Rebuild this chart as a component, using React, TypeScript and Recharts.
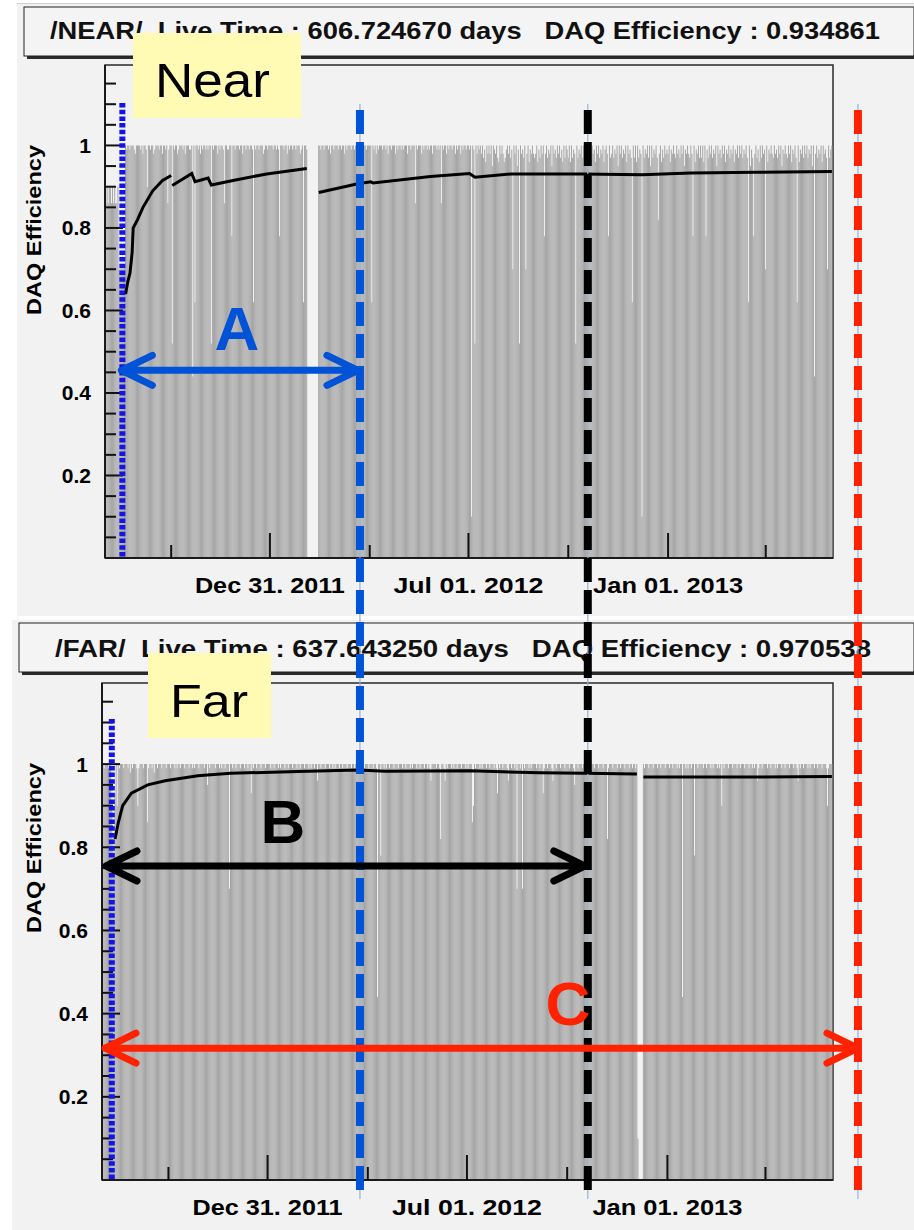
import React from "react";
import { Bar, ComposedChart, Line, ReferenceArea, XAxis, YAxis } from "recharts";

const FONT = "'Liberation Sans', Arial, Helvetica, sans-serif";

// time axis: day 0 is 2011-08-01, the frame ends on 2013-06-02
const AXIS_START = "2011-08-01";
const X_MAX = 671;
const Y_MAX = 1.195;

const dayOf = (iso: string) =>
  Math.round((Date.parse(iso) - Date.parse(AXIS_START)) / 86400000);

const X_TICK_DATES = ["2011-10-01", "2011-12-31", "2012-04-01", "2012-07-01", "2012-10-01", "2013-01-01", "2013-04-01"];
const X_TICK_LABELS = ["", "Dec 31. 2011", "", "Jul 01. 2012", "", "Jan 01. 2013", ""];
const X_TICK_DAYS = X_TICK_DATES.map(dayOf);

const Y_TICKS = [0.05, 0.1, 0.15, 0.2, 0.25, 0.3, 0.35, 0.4, 0.45, 0.5, 0.55, 0.6, 0.65, 0.7, 0.75, 0.8, 0.85, 0.9, 0.95, 1, 1.05, 1.1, 1.15];
const Y_LABELS = [0.2, 0.4, 0.6, 0.8, 1];

// daily DAQ efficiency, one character per day (spaces are only for reading)
const LEVELS: Record<string, number | null> = {
  "9": 1.0, "8": 0.99, "7": 0.98, "6": 0.97, "5": 0.96, "4": 0.95, "3": 0.93, "2": 0.9, "1": 0.86, "0": 0.82,
  h: 0.78, g: 0.7, f: 0.62, e: 0.52, d: 0.44, c: 0.34, b: 0.2, a: 0.1, "-": null,
};

const MONTHS = [
  "2011-08", "2011-09", "2011-10", "2011-11", "2011-12", "2012-01", "2012-02", "2012-03",
  "2012-04", "2012-05", "2012-06", "2012-07", "2012-08", "2012-09", "2012-10", "2012-11",
  "2012-12", "2013-01", "2013-02", "2013-03", "2013-04", "2013-05", "2013-06",
];

const NEAR_DAILY = [
  "2121221212 112gggggg9 8998999879 9",
  "9989799829 9899789998 9979989189",
  "9e98997899 9897999889 d9f9989798 9",
  "989899e989 9979899819 98899h9989",
  "9989979989 98998f9899 8999789989 9",
  "99899898h9 9989979899 8998999789 f",
  "998------- ---9989989 998979989",
  "9989989979 8999899898 9979899989 9",
  "99f9897989 9989989799 8999798998",
  "9899979989 9919899979 8998989979 9",
  "9898919899 7989989979 8997989989",
  "989a98e979 8979685979 7949879659 7",
  "9756897968 g97948e978 69g7958797 6",
  "79586979h7 9687949786 9796859698",
  "6959687e96 8796979487 9697859796 8",
  "795897h967 9687949796 87959786f9",
  "6959687a96 8796949687 9607958697 8",
  "7958797697 8697948797 697h958796 9",
  "6959h86979 6879497869 79587968",
  "7958796979 68796f9486 h796859697 8",
  "g958797697 8697948797 697958796f",
  "9587969796 87949d7968 7959786g96 8",
  "9",
];

const FAR_DAILY = [
  "9989998992 0h39298999 8999897989 9",
  "9828999899 9189989799 8999899989",
  "9989998989 9899989998 9989899989 9",
  "9989949899 9989998989 98999g9989",
  "9899989998 9989939899 8999899989 9",
  "9989989998 9899989989 9989998998 9",
  "9989998989 9899599899 989998998",
  "9899989989 9989998998 9899899989 9",
  "989998998d 99h9989899 8999899989",
  "9989989998 9899989989 9989989859 9",
  "9989980998 5989998989 9899989998",
  "9899912989 9989899989 9899989839 8",
  "9989998599 89989g9989 g989998989 9",
  "9989989938 9989998599 8999899989",
  "9989998499 8999899989 9989989998 9",
  "9989990899 9899989989 9989998998",
  "9989a----9 8999899989 9989989998 9",
  "9989989998 9899d99898 99899h9989 9",
  "9989989998 9899989892 98999899",
  "9899989989 9989998998 9899589989 9",
  "9989989998 9899989989 9989998998",
  "5989989998 9899989989 9989998289 9",
  "9",
];

// cumulative efficiency, [day, value]; each array is one unbroken stretch
const NEAR_AVG_1 = [[19, 0.64], [21, 0.67], [23, 0.69], [25, 0.74], [26, 0.8], [30, 0.82], [35, 0.85], [44, 0.89], [53, 0.915], [61, 0.927]];
const NEAR_AVG_2 = [[62, 0.903], [80, 0.932], [83, 0.912], [95, 0.921], [98, 0.904], [118, 0.915], [149, 0.931], [186, 0.944]];
const NEAR_AVG_3 = [[197, 0.886], [233, 0.907], [245, 0.912], [247, 0.909], [300, 0.925], [336, 0.932], [341, 0.923], [375, 0.931], [440, 0.931], [495, 0.929], [540, 0.933], [600, 0.935], [670, 0.937]];
const FAR_AVG_1 = [[12, 0.82], [15, 0.86], [19, 0.9], [27, 0.93], [42, 0.95], [58, 0.96], [88, 0.972], [118, 0.978], [180, 0.982], [235, 0.986], [260, 0.983], [338, 0.984], [402, 0.979], [443, 0.978], [491, 0.976]];
const FAR_AVG_2 = [[497, 0.969], [586, 0.969], [670, 0.97]];

// run boundaries drawn across both panels
const NEAR_START = "2011-08-17";
const FAR_START = "2011-08-10";
const CUT_A = "2012-03-23";
const CUT_B = "2012-10-19";
const CUT_C = "2013-06-25";

const NEAR_TITLE = "/NEAR/  Live Time : 606.724670 days   DAQ Efficiency : 0.934861";
const FAR_TITLE = "/FAR/  Live Time : 637.643250 days   DAQ Efficiency : 0.970538";

const PAGE_W = 914;
const X_AXIS_H = 45;
const Y_AXIS_W = 60;
const UPPER = { top: 0, height: 615, plot: { left: 105, right: 833, top: 65, bottom: 558 } };
const LOWER = { top: 618, height: 612, plot: { left: 102, right: 833, top: 683, bottom: 1180 } };

type Row = Record<string, number | null>;

function buildRows(daily: string[], segments: number[][][]): Row[] {
  const rows: Row[] = [];
  for (let d = 0; d < X_MAX; d++) rows.push({ day: d, eff: null });
  MONTHS.forEach((m, i) => {
    const first = dayOf(m + "-01");
    const next = i + 1 < MONTHS.length ? dayOf(MONTHS[i + 1] + "-01") : X_MAX;
    const codes = daily[i].replace(/ /g, "");
    for (let k = 0; k < codes.length && first + k < next; k++) {
      rows[first + k].eff = LEVELS[codes[k]] ?? null;
    }
  });
  segments.forEach((seg, s) => seg.forEach(([d, v]) => { rows[d]["avg" + s] = v; }));
  return rows;
}

const XTick = (props: any) => {
  const { x, y, payload } = props;
  const label = X_TICK_LABELS[X_TICK_DAYS.indexOf(payload.value)];
  return (
    <g>
      <line x1={x} x2={x} y1={y} y2={y - (label ? 25 : 13)} stroke="#111" strokeWidth={2} />
      {label ? (
        <text x={x} y={y + 35} textAnchor="middle" fontSize={22} fontWeight="bold" fill="#000"
          textLength={150} lengthAdjust="spacingAndGlyphs" fontFamily={FONT}>
          {label}
        </text>
      ) : null}
    </g>
  );
};

const YTick = (props: any) => {
  const { x, y, payload } = props;
  const major = Y_LABELS.some((v) => Math.abs(v - payload.value) < 1e-6);
  return (
    <g>
      <line x1={x} x2={x + (major ? 18 : 11)} y1={y} y2={y} stroke="#111" strokeWidth={2} />
      {major ? (
        <text x={x - 14} y={y + 7.5} textAnchor="end" fontSize={21} fontWeight="bold" fill="#000" fontFamily={FONT}>
          {payload.value === 1 ? "1" : String(payload.value)}
        </text>
      ) : null}
    </g>
  );
};

function Panel({ frame, rows, segCount }: { frame: typeof UPPER; rows: Row[]; segCount: number }) {
  const p = frame.plot;
  const margin = {
    top: p.top - frame.top,
    bottom: frame.top + frame.height - p.bottom - X_AXIS_H,
    left: p.left - Y_AXIS_W,
    right: PAGE_W - p.right,
  };
  const barSize = (p.right - p.left) / X_MAX + 0.1;
  return (
    <div style={{ position: "absolute", left: 0, top: frame.top, width: PAGE_W, height: frame.height }}>
      <ComposedChart width={PAGE_W} height={frame.height} data={rows} margin={margin} barGap={0} barCategoryGap={0}>
        <XAxis dataKey="day" type="number" domain={[0, X_MAX]} ticks={X_TICK_DAYS} interval={0}
          height={X_AXIS_H} tickSize={0} tickMargin={0} tickLine={false}
          axisLine={{ stroke: "#1a1a1a", strokeWidth: 2 }} tick={<XTick />} />
        <YAxis type="number" domain={[0, Y_MAX]} ticks={Y_TICKS} interval={0}
          width={Y_AXIS_W} tickSize={0} tickMargin={0} tickLine={false}
          axisLine={{ stroke: "#1a1a1a", strokeWidth: 2 }} tick={<YTick />} />
        <Bar dataKey="eff" fill="#a3a3a3" barSize={barSize} isAnimationActive={false} />
        {Array.from({ length: segCount }, (_, s) => (
          <Line key={s} dataKey={"avg" + s} type="linear" stroke="#000" strokeWidth={3}
            dot={false} connectNulls isAnimationActive={false} />
        ))}
        <ReferenceArea x1={0} x2={X_MAX} y1={0} y2={Y_MAX} fill="none" stroke="#2a2a2a"
          strokeWidth={1.5} ifOverflow="visible" />
      </ComposedChart>
    </div>
  );
}

function TitleBox({ x, y, w, h, text, tx, ty, tw }: { x: number; y: number; w: number; h: number; text: string; tx: number; ty: number; tw: number }) {
  return (
    <g>
      <rect x={x + 3} y={y + 3} width={w} height={h} fill="#2b2b2b" />
      <rect x={x} y={y} width={w} height={h} fill="#f4f4f4" stroke="#222" strokeWidth={1} />
      <text x={tx} y={ty} fontSize={24} fontWeight="bold" fill="#111" fontFamily={FONT} textLength={tw}
        lengthAdjust="spacingAndGlyphs" style={{ whiteSpace: "pre" }}>
        {text}
      </text>
    </g>
  );
}

function Arrow({ x1, x2, y, color }: { x1: number; x2: number; y: number; color: string }) {
  const d = `M${x1},${y} L${x2},${y} M${x1 + 31},${y - 15} L${x1},${y} L${x1 + 31},${y + 15} M${x2 - 31},${y - 15} L${x2},${y} L${x2 - 31},${y + 15}`;
  return <path d={d} fill="none" stroke={color} strokeWidth={7} strokeLinecap="round" strokeLinejoin="round" />;
}

function Overlay() {
  const up = UPPER.plot;
  const lo = LOWER.plot;
  const xUp = (iso: string) => up.left + (dayOf(iso) / X_MAX) * (up.right - up.left);
  const xLo = (iso: string) => lo.left + (dayOf(iso) / X_MAX) * (lo.right - lo.left);
  const yUp = (v: number) => up.bottom - (v / Y_MAX) * (up.bottom - up.top);
  const yLo = (v: number) => lo.bottom - (v / Y_MAX) * (lo.bottom - lo.top);

  const cuts = [
    { x: xUp(CUT_A), color: "#0052d6" },
    { x: xUp(CUT_B), color: "#000000" },
    { x: xUp(CUT_C), color: "#ff2200" },
  ];
  const nearX = xUp(NEAR_START);
  const farX = xLo(FAR_START);

  return (
    <svg width={PAGE_W} height={1230} style={{ position: "absolute", left: 0, top: 0, pointerEvents: "none" }}>
      <TitleBox x={24} y={7} w={890} h={49} text={NEAR_TITLE} tx={50} ty={39} tw={830} />
      <TitleBox x={19} y={623} w={895} h={49} text={FAR_TITLE} tx={55} ty={657} tw={816} />

      {[230, 848].map((cy) => (
        <text key={cy} transform={`translate(41, ${cy}) rotate(-90)`} textAnchor="middle" fontSize={21}
          fontWeight="bold" fill="#000" fontFamily={FONT} textLength={170} lengthAdjust="spacingAndGlyphs">
          DAQ Efficiency
        </text>
      ))}

      <rect x={133} y={33} width={168} height={85} fill="#fffab4" />
      <text x={155} y={97} fontSize={48} fill="#000" fontFamily={FONT} textLength={115} lengthAdjust="spacingAndGlyphs">Near</text>
      <rect x={148} y={653} width={123} height={85} fill="#fffab4" />
      <text x={170} y={717} fontSize={46} fill="#000" fontFamily={FONT} textLength={78} lengthAdjust="spacingAndGlyphs">Far</text>

      <line x1={nearX} x2={nearX} y1={103} y2={up.bottom} stroke="#1414e6" strokeWidth={6} strokeDasharray="4.5 2.2" />
      <line x1={farX} x2={farX} y1={719} y2={lo.bottom} stroke="#1414e6" strokeWidth={6} strokeDasharray="4.5 2.2" />

      {cuts.map((c) => (
        <g key={c.color}>
          <line x1={c.x} x2={c.x} y1={104} y2={1199} stroke="#8fb3dd" strokeWidth={1.2} />
          <line x1={c.x} x2={c.x} y1={110} y2={1197} stroke={c.color} strokeWidth={8} strokeDasharray="24 8" />
        </g>
      ))}

      <Arrow x1={nearX - 1} x2={cuts[0].x - 2} y={yUp(0.455)} color="#0052d6" />
      <Arrow x1={lo.left + 4} x2={cuts[1].x - 3} y={yLo(0.755)} color="#000000" />
      <Arrow x1={lo.left + 3} x2={cuts[2].x} y={yLo(0.317)} color="#ff2200" />

      <text x={237} y={350} textAnchor="middle" fontSize={62} fontWeight="bold" fill="#0052d6" fontFamily={FONT}>A</text>
      <text x={283} y={843} textAnchor="middle" fontSize={62} fontWeight="bold" fill="#000" fontFamily={FONT}>B</text>
      <text x={568} y={1025} textAnchor="middle" fontSize={62} fontWeight="bold" fill="#ff2200" fontFamily={FONT}>C</text>
    </svg>
  );
}

export default function App() {
  const nearRows = buildRows(NEAR_DAILY, [NEAR_AVG_1, NEAR_AVG_2, NEAR_AVG_3]);
  const farRows = buildRows(FAR_DAILY, [FAR_AVG_1, FAR_AVG_2]);
  return (
    <div style={{ position: "absolute", left: 0, top: 0, width: PAGE_W, height: 1230, background: "#ffffff", fontFamily: FONT, overflow: "hidden" }}>
      <div style={{ position: "absolute", left: 17, top: 3, width: PAGE_W - 17, height: 612, background: "#f2f2f2", borderTop: "1px solid #cfcfcf" }} />
      <div style={{ position: "absolute", left: 12, top: 620, width: PAGE_W - 12, height: 610, background: "#f2f2f2" }} />
      <Panel frame={UPPER} rows={nearRows} segCount={3} />
      <Panel frame={LOWER} rows={farRows} segCount={2} />
      <Overlay />
    </div>
  );
}
